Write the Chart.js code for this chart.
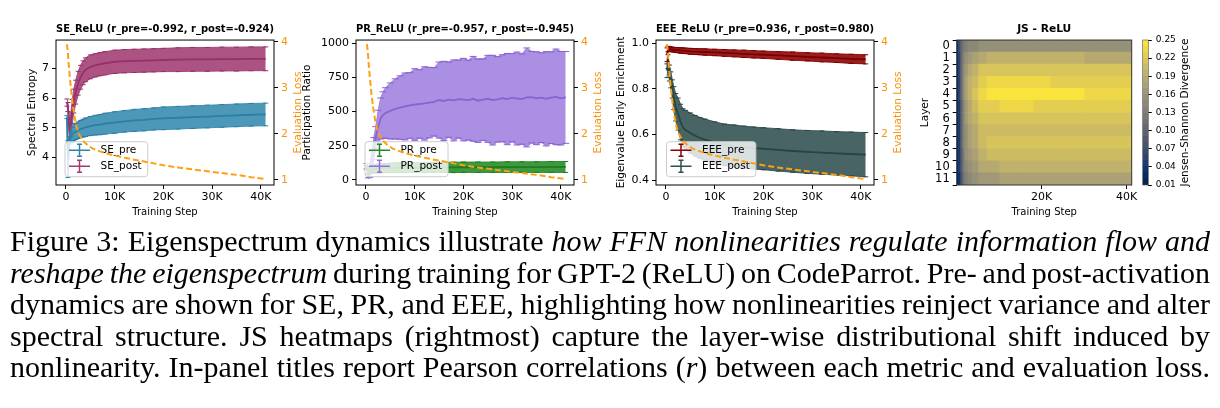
<!DOCTYPE html>
<html>
<head>
<meta charset="utf-8">
<script src="https://cdn.jsdelivr.net/npm/chart.js@4.4.1/dist/chart.umd.min.js"></script>
<style>
  body { margin: 0; background: #fff; width: 1220px; height: 408px; overflow: hidden; position: relative; }
  canvas { position: absolute; top: 0; }
  #cap { position: absolute; left: 10px; top: 225px; font-family: 'Liberation Serif', 'Times New Roman', serif;
         font-size: 30px; line-height: 31.6px; color: #000; }
  #cap .ln { width: max-content; white-space: pre; }
</style>
</head>
<body>
<canvas id="c1" width="310" height="225" style="left:0px"></canvas>
<canvas id="c2" width="315" height="225" style="left:295px"></canvas>
<canvas id="c3" width="310" height="225" style="left:600px"></canvas>
<canvas id="c4" width="235" height="225" style="left:905px"></canvas>
<canvas id="c5" width="90" height="225" style="left:1130px"></canvas>

<div id="cap">
<div class="ln">Figure 3: Eigenspectrum dynamics illustrate <i>how FFN nonlinearities regulate information flow and</i></div>
<div class="ln"><i>reshape the eigenspectrum</i> during training for GPT-2 (ReLU) on CodeParrot. Pre- and post-activation</div>
<div class="ln">dynamics are shown for SE, PR, and EEE, highlighting how nonlinearities reinject variance and alter</div>
<div class="ln">spectral structure. JS heatmaps (rightmost) capture the layer-wise distributional shift induced by</div>
<div class="ln">nonlinearity. In-panel titles report Pearson correlations (<i>r</i>) between each metric and evaluation loss.</div>
</div>

<script>
// training steps of the eval points
var steps = [200, 400, 700, 1000, 1300, 1600, 2000, 2500, 3000, 3500, 4000, 5000, 6000, 7000, 8000,
    10000, 12000, 14000, 16000, 18000, 20000, 23000, 26000, 29000, 32000, 35000, 38000, 41000];

var sePreMean = [5.36, 3.95, 4.58, 4.70, 4.78, 4.84, 4.88, 4.92, 4.96, 4.99, 5.02, 5.06, 5.09, 5.11, 5.14,
    5.18, 5.22, 5.25, 5.27, 5.30, 5.32, 5.34, 5.36, 5.38, 5.40, 5.42, 5.44, 5.45];
var sePreErr = [0.05, 0.62, 0.12, 0.20, 0.24, 0.26, 0.27, 0.28, 0.29, 0.30, 0.31, 0.32, 0.33, 0.34, 0.35,
    0.36, 0.36, 0.37, 0.37, 0.37, 0.38, 0.38, 0.38, 0.38, 0.38, 0.38, 0.38, 0.38];
var sePostMean = [5.85, 5.70, 4.95, 5.10, 5.55, 5.90, 6.20, 6.50, 6.70, 6.85, 6.95, 7.05, 7.10, 7.14, 7.17,
    7.22, 7.24, 7.25, 7.26, 7.27, 7.28, 7.29, 7.30, 7.30, 7.31, 7.31, 7.32, 7.32];
var sePostErr = [0.12, 0.15, 0.35, 0.40, 0.40, 0.40, 0.40, 0.40, 0.40, 0.40, 0.40, 0.40, 0.39, 0.39, 0.39,
    0.39, 0.39, 0.39, 0.39, 0.39, 0.39, 0.40, 0.40, 0.40, 0.40, 0.40, 0.40, 0.40];

var prPreMean = [95, 60, 70, 75, 78, 80, 82, 84, 85, 86, 87, 88, 89, 90, 90,
    91, 91, 92, 92, 92, 93, 93, 93, 94, 94, 94, 95, 95];
var prPreErr = [10, 20, 22, 25, 27, 28, 30, 31, 32, 33, 33, 34, 35, 35, 36,
    36, 37, 37, 37, 38, 38, 38, 38, 39, 39, 39, 40, 40];

// PR_post is noisier, so it has its own denser steps
var prSteps = [200, 500, 800, 1200, 1600, 2000, 2500, 3000, 3500, 4000,
    5000, 6000, 7000, 8000, 9000, 10000, 11000, 12000, 13000, 14000, 15000, 16000, 17000, 18000, 19000,
    20000, 21000, 22000, 23000, 24000, 25000, 26000, 27000, 28000, 29000, 30000, 31000, 32000, 33000,
    34000, 35000, 36000, 37000, 38000, 39000, 40000, 41000];
var prPostMean = [100, 30, 60, 140, 230, 310, 390, 450, 475, 490,
    505, 520, 530, 538, 545, 552, 556, 560, 566, 572, 585, 578, 588, 582, 592,
    588, 584, 594, 580, 588, 594, 584, 590, 598, 592, 602, 596, 592, 604,
    606, 598, 602, 594, 602, 608, 598, 604];
var prPostErr = [20, 15, 40, 70, 80, 80, 120, 150, 170, 185,
    205, 220, 232, 245, 240, 262, 250, 268, 258, 250, 278, 290, 275, 296, 285,
    302, 292, 310, 305, 298, 318, 328, 312, 318, 334, 322, 340, 330, 362,
    335, 340, 328, 345, 335, 350, 342, 336];

var eeePreMean = [0.950, 0.975, 0.975, 0.974, 0.973, 0.972, 0.971, 0.970, 0.969, 0.968, 0.967, 0.965, 0.964, 0.963, 0.962,
    0.960, 0.958, 0.956, 0.954, 0.952, 0.950, 0.947, 0.944, 0.941, 0.938, 0.935, 0.932, 0.930];
var eeePreErr = [0.030, 0.012, 0.010, 0.010, 0.010, 0.010, 0.011, 0.011, 0.012, 0.012, 0.012, 0.013, 0.013, 0.013, 0.014,
    0.014, 0.015, 0.015, 0.016, 0.016, 0.016, 0.017, 0.018, 0.018, 0.019, 0.019, 0.020, 0.020];
var eeePostMean = [0.880, 0.920, 0.870, 0.840, 0.800, 0.760, 0.720, 0.690, 0.655, 0.630, 0.620, 0.607, 0.595, 0.585, 0.578,
    0.565, 0.555, 0.550, 0.545, 0.541, 0.538, 0.533, 0.528, 0.524, 0.521, 0.518, 0.515, 0.512];
var eeePostErr = [0.030, 0.030, 0.035, 0.035, 0.040, 0.050, 0.060, 0.070, 0.078, 0.083, 0.086, 0.088, 0.089, 0.090, 0.090,
    0.091, 0.091, 0.092, 0.092, 0.092, 0.092, 0.093, 0.093, 0.094, 0.095, 0.095, 0.096, 0.097];

// evaluation loss (right axis, same run in all three panels)
var lossSteps = [200, 400, 600, 800, 1000, 1200, 1500, 1800, 2200, 2600, 3000, 3600, 4500, 5500, 7000,
    8500, 10000, 12000, 14000, 17000, 20000, 23000, 26000, 29000, 32000, 35000, 38000, 41000];
var evalLoss = [3.95, 3.75, 3.45, 3.22, 3.00, 2.80, 2.55, 2.35, 2.14, 2.01, 1.93, 1.84, 1.75, 1.68, 1.62,
    1.57, 1.53, 1.48, 1.44, 1.38, 1.32, 1.27, 1.23, 1.19, 1.15, 1.11, 1.06, 1.02];

// JS heatmap: one row per layer, one column per step
var layers = [0, 1, 2, 3, 4, 5, 6, 7, 8, 9, 10, 11];
var jsSteps = [0, 500, 1000, 1500, 2000, 3000, 4000, 6000, 8000, 12000, 16000, 20000, 24000, 28000, 32000, 36000, 41200];
var jsGrid = [
    [0.03, 0.06, 0.10, 0.12, 0.13, 0.14, 0.145, 0.15, 0.155, 0.155, 0.155, 0.155, 0.155, 0.155, 0.155, 0.155, 0.155],
    [0.02, 0.05, 0.10, 0.13, 0.15, 0.16, 0.17, 0.185, 0.19, 0.19, 0.19, 0.19, 0.19, 0.19, 0.185, 0.185, 0.185],
    [0.02, 0.05, 0.10, 0.14, 0.16, 0.18, 0.19, 0.21, 0.215, 0.218, 0.218, 0.215, 0.212, 0.212, 0.212, 0.212, 0.212],
    [0.02, 0.05, 0.10, 0.14, 0.17, 0.19, 0.20, 0.22, 0.23, 0.235, 0.235, 0.232, 0.228, 0.226, 0.225, 0.225, 0.225],
    [0.02, 0.05, 0.10, 0.14, 0.17, 0.19, 0.21, 0.235, 0.245, 0.248, 0.248, 0.246, 0.242, 0.24, 0.238, 0.236, 0.236],
    [0.02, 0.04, 0.09, 0.13, 0.16, 0.18, 0.20, 0.22, 0.225, 0.23, 0.23, 0.226, 0.225, 0.222, 0.222, 0.222, 0.222],
    [0.02, 0.04, 0.09, 0.13, 0.16, 0.18, 0.19, 0.21, 0.215, 0.215, 0.215, 0.215, 0.215, 0.215, 0.215, 0.215, 0.215],
    [0.02, 0.04, 0.09, 0.13, 0.15, 0.17, 0.18, 0.20, 0.203, 0.203, 0.203, 0.205, 0.208, 0.208, 0.208, 0.208, 0.208],
    [0.02, 0.04, 0.09, 0.13, 0.15, 0.17, 0.18, 0.20, 0.212, 0.212, 0.212, 0.212, 0.212, 0.212, 0.212, 0.212, 0.212],
    [0.02, 0.04, 0.08, 0.12, 0.15, 0.16, 0.17, 0.19, 0.202, 0.202, 0.202, 0.202, 0.202, 0.202, 0.202, 0.202, 0.202],
    [0.02, 0.04, 0.08, 0.12, 0.14, 0.15, 0.16, 0.18, 0.188, 0.192, 0.192, 0.192, 0.192, 0.192, 0.192, 0.192, 0.192],
    [0.01, 0.03, 0.07, 0.11, 0.13, 0.14, 0.15, 0.16, 0.165, 0.17, 0.17, 0.17, 0.17, 0.17, 0.17, 0.17, 0.17]
];
var cbLevels = [0.01, 0.02, 0.03, 0.04, 0.05, 0.06, 0.07, 0.08, 0.09, 0.10, 0.11, 0.12, 0.13,
    0.14, 0.15, 0.16, 0.17, 0.18, 0.19, 0.20, 0.21, 0.22, 0.23, 0.24, 0.25];
var cbTicks = [0.01, 0.04, 0.07, 0.10, 0.13, 0.16, 0.19, 0.22, 0.25];
var stepTicks = [0, 10000, 20000, 30000, 40000];
var lossTicks = [1, 2, 3, 4];

var ORANGE = '#FFA010';
var ORANGE_TXT = '#F7950C';

Chart.defaults.font.family = "'DejaVu Sans', sans-serif";
Chart.defaults.color = '#000';

// cividis approx
var cividisStops = [[0, 0, 34, 78], [0.1, 8, 51, 112], [0.2, 53, 69, 108], [0.3, 79, 87, 108], [0.4, 102, 105, 112],
    [0.5, 125, 124, 120], [0.6, 148, 143, 120], [0.7, 174, 163, 116], [0.8, 200, 184, 102], [0.9, 228, 207, 81], [1, 254, 232, 56]];
function cividis(t) {
    t = Math.max(0, Math.min(1, t));
    for (var i = 1; i < cividisStops.length; i++) {
        var a = cividisStops[i - 1], b = cividisStops[i];
        if (t <= b[0]) {
            var f = (t - a[0]) / (b[0] - a[0]);
            return 'rgb(' + Math.round(a[1] + f * (b[1] - a[1])) + ',' + Math.round(a[2] + f * (b[2] - a[2])) + ',' + Math.round(a[3] + f * (b[3] - a[3])) + ')';
        }
    }
}
var cbMin = cbLevels[0], cbMax = cbLevels[cbLevels.length - 1];
function levelColor(v) {
    // contourf-like: snap to the level band
    var k = 0;
    while (k < cbLevels.length - 2 && v >= cbLevels[k + 1]) k++;
    return cividis(((cbLevels[k] + cbLevels[k + 1]) / 2 - cbMin) / (cbMax - cbMin));
}

// plugins
var frame = {
    id: 'frame',
    afterDraw: function (chart, args, o) {
        var a = chart.chartArea, ctx = chart.ctx;
        ctx.save();
        ctx.strokeStyle = o.color || '#000';
        ctx.lineWidth = o.width || 1;
        ctx.strokeRect(a.left, a.top, a.right - a.left, a.bottom - a.top);
        ctx.restore();
    }
};

var sideTitle = {
    id: 'sideTitle',
    afterDraw: function (chart, args, o) {
        if (!o.text) return;
        var a = chart.chartArea, ctx = chart.ctx;
        ctx.save();
        ctx.translate(a.right + o.offset, (a.top + a.bottom) / 2);
        ctx.rotate(-Math.PI / 2);
        ctx.font = o.size + "px 'DejaVu Sans'";
        ctx.fillStyle = o.color;
        ctx.textAlign = 'center';
        ctx.textBaseline = 'middle';
        ctx.fillText(o.text, 0, 0);
        ctx.restore();
    }
};

// matplotlib style errorbar legend, drawn under the loss line
var errLegend = {
    id: 'errLegend',
    afterDatasetDraw: function (chart, args, o) {
        if (!o.items || args.index !== 1) return;
        var ctx = chart.ctx, a = chart.chartArea;
        ctx.save();
        ctx.font = "10.5px 'DejaVu Sans'";
        var tw = 0;
        o.items.forEach(function (it) { tw = Math.max(tw, ctx.measureText(it.label).width); });
        var x = a.left + o.dx, y = o.top, w = o.textDx - o.dx + tw + 6, h = 35;
        ctx.fillStyle = 'rgba(255,255,255,0.8)';
        ctx.strokeStyle = '#cccccc';
        ctx.lineWidth = 1;
        ctx.beginPath();
        ctx.roundRect(x, y, w, h, 3);
        ctx.fill();
        ctx.stroke();
        o.items.forEach(function (it, i) {
            var yy = y + 8.5 + i * 16;
            ctx.strokeStyle = it.color;
            ctx.lineWidth = 1.5;
            ctx.beginPath();
            ctx.moveTo(x + 4, yy); ctx.lineTo(x + 25, yy);
            ctx.moveTo(x + 14.5, yy - 6); ctx.lineTo(x + 14.5, yy + 6);
            ctx.moveTo(x + 12, yy - 6); ctx.lineTo(x + 17, yy - 6);
            ctx.moveTo(x + 12, yy + 6); ctx.lineTo(x + 17, yy + 6);
            ctx.stroke();
            ctx.fillStyle = '#000';
            ctx.textBaseline = 'middle';
            ctx.fillText(it.label, a.left + o.textDx, yy + 0.5);
        });
        ctx.restore();
    }
};

// mean line + error band (upper/lower edges carry the caps)
function band(xs, mean, err, line, fill, cap) {
    var capPts = { pointStyle: 'line', pointRadius: cap, pointBorderColor: line, pointBorderWidth: 1, pointBackgroundColor: line };
    return [
        { data: xs.map(function (x, i) { return { x: x, y: mean[i] }; }), borderColor: line, borderWidth: 1.8, pointRadius: 0, yAxisID: 'y' },
        Object.assign({ data: xs.map(function (x, i) { return { x: x, y: mean[i] + err[i] }; }), borderColor: fill, borderWidth: 1, yAxisID: 'y' }, capPts),
        Object.assign({ data: xs.map(function (x, i) { return { x: x, y: mean[i] - err[i] }; }), borderColor: fill, borderWidth: 1,
          backgroundColor: fill, fill: '-1', yAxisID: 'y' }, capPts)
    ];
}

function lossLine() {
    return { data: lossSteps.map(function (s, i) { return { x: s, y: evalLoss[i] }; }),
             borderColor: ORANGE, borderWidth: 2, borderDash: [6, 3], pointRadius: 0, yAxisID: 'y2' };
}

function kfmt(v) { return v === 0 ? '0' : (v / 1000) + 'K'; }

function xAxis(min, max, ticks) {
    return {
        type: 'linear', min: min, max: max,
        afterBuildTicks: function (s) { s.ticks = ticks.map(function (v) { return { value: v }; }); },
        afterFit: function (s) { s.height = 35; },
        ticks: { font: { size: 11 }, padding: 2, maxRotation: 0, autoSkip: false, callback: kfmt },
        grid: { drawOnChartArea: false, tickLength: 4, tickColor: '#000' },
        border: { display: false },
        title: { display: true, text: 'Training Step', font: { size: 10 }, padding: { top: 0, bottom: 2 } }
    };
}

function makePanel(id, c) {
    return new Chart(document.getElementById(id), {
        type: 'line',
        data: { datasets: [lossLine()].concat(c.pre, c.post) },
        options: {
            responsive: false,
            animation: false,
            events: [],
            layout: { padding: { left: 0, right: 0, top: 0, bottom: 5 } },
            plugins: {
                legend: { display: false },
                tooltip: { enabled: false },
                title: { display: true, text: c.title, fullSize: false, color: '#000',
                         font: { size: 10.7, weight: 'bold' }, padding: { top: 23.2, bottom: 4 } },
                errLegend: { items: c.legend, dx: c.legDx, textDx: c.legDx + 35.5, top: 141.7 },
                sideTitle: { text: 'Evaluation Loss', offset: 24, color: ORANGE_TXT, size: 10.5 }
            },
            scales: {
                x: xAxis(-2050, 42700, stepTicks),
                y: {
                    type: 'linear', position: 'left', min: c.yMin, max: c.yMax,
                    afterBuildTicks: function (s) { s.ticks = c.yTicks.map(function (v) { return { value: v }; }); },
                    afterFit: function (s) { s.width = c.leftW; },
                    ticks: { font: { size: 11 }, padding: 3, callback: c.yFmt },
                    grid: { drawOnChartArea: false, tickLength: 4, tickColor: '#000' },
                    border: { display: false },
                    title: { display: true, text: c.yTitle, font: { size: 10.5 }, padding: { top: c.titlePad, bottom: 0 } }
                },
                y2: {
                    type: 'linear', position: 'right', min: 0.89, max: 4.037,
                    afterBuildTicks: function (s) { s.ticks = lossTicks.map(function (v) { return { value: v }; }); },
                    afterFit: function (s) { s.width = 36; },
                    ticks: { font: { size: 11 }, padding: 3, color: ORANGE_TXT },
                    grid: { drawOnChartArea: false, tickLength: 4, tickColor: '#000' },
                    border: { display: false }
                }
            }
        },
        plugins: [errLegend, sideTitle, frame]
    });
}

makePanel('c1', {
    title: 'SE_ReLU (r_pre=-0.992, r_post=-0.924)',
    pre: band(steps, sePreMean, sePreErr, '#2A7FA3', 'rgba(46,134,171,0.85)', 2.5),
    post: band(steps, sePostMean, sePostErr, '#95306A', 'rgba(162,59,114,0.88)', 2.5),
    legend: [{ label: 'SE_pre', color: '#2E86AB' }, { label: 'SE_post', color: '#A23B72' }],
    legDx: 9, yMin: 3.08, yMax: 7.95, yTicks: [4, 5, 6, 7], yFmt: function (v) { return v; },
    yTitle: 'Spectral Entropy', titlePad: 25.7, leftW: 56
});

makePanel('c2', {
    title: 'PR_ReLU (r_pre=-0.957, r_post=-0.945)',
    pre: band(steps, prPreMean, prPreErr, '#1E7B1E', 'rgba(34,139,34,0.88)', 2.5),
    post: band(prSteps, prPostMean, prPostErr, '#8A63D2', 'rgba(147,112,219,0.78)', 3.5),
    legend: [{ label: 'PR_pre', color: '#228B22' }, { label: 'PR_post', color: '#9370DB' }],
    legDx: 9, yMin: -37, yMax: 1024, yTicks: [0, 250, 500, 750, 1000], yFmt: function (v) { return v; },
    yTitle: 'Participation Ratio', titlePad: 6.2, leftW: 61
});

makePanel('c3', {
    title: 'EEE_ReLU (r_pre=0.936, r_post=0.980)',
    pre: band(steps, eeePreMean, eeePreErr, '#7A0000', 'rgba(139,0,0,0.88)', 2.5),
    post: band(steps, eeePostMean, eeePostErr, '#284444', 'rgba(47,79,79,0.88)', 2.5),
    legend: [{ label: 'EEE_pre', color: '#8B0000' }, { label: 'EEE_post', color: '#2F4F4F' }],
    legDx: 10.5, yMin: 0.379, yMax: 1.0145, yTicks: [0.4, 0.6, 0.8, 1.0], yFmt: function (v) { return v.toFixed(1); },
    yTitle: 'Eigenvalue Early Enrichment', titlePad: 14.7, leftW: 56
});

// heatmap cells as floating horizontal bars
function cellStart(c) { return c === 0 ? jsSteps[0] : (jsSteps[c - 1] + jsSteps[c]) / 2; }
function cellEnd(c) { return c === jsSteps.length - 1 ? jsSteps[c] : (jsSteps[c] + jsSteps[c + 1]) / 2; }

new Chart(document.getElementById('c4'), {
    type: 'bar',
    data: {
        datasets: jsSteps.map(function (s, c) {
            return {
                data: layers.map(function (l) { return { y: l, x: [cellStart(c), cellEnd(c)] }; }),
                backgroundColor: layers.map(function (l) { return levelColor(jsGrid[l][c]); }),
                borderWidth: 0, grouped: false, barPercentage: 1, categoryPercentage: 1, clip: 0
            };
        })
    },
    options: {
        indexAxis: 'y',
        responsive: false,
        animation: false,
        events: [],
        layout: { padding: { left: 0, right: 8.3, top: 0, bottom: 5 } },
        plugins: {
            legend: { display: false },
            tooltip: { enabled: false },
            title: { display: true, text: 'JS - ReLU', fullSize: false, color: '#000',
                     font: { size: 10.7, weight: 'bold' }, padding: { top: 23.2, bottom: 4 } },
            frame: { color: '#333' }
        },
        scales: {
            x: xAxis(0, 41200, [20000, 40000]),
            y: {
                type: 'linear', min: 0, max: 11, reverse: true,
                afterBuildTicks: function (s) { s.ticks = layers.map(function (v) { return { value: v }; }); },
                afterFit: function (s) { s.width = 51.7; },
                ticks: { font: { size: 11.5 }, padding: 3, autoSkip: false },
                grid: { drawOnChartArea: false, tickLength: 4, tickColor: '#000' },
                border: { display: false },
                title: { display: true, text: 'Layer', font: { size: 10.5 }, padding: { top: 13.7, bottom: 0 } }
            }
        }
    },
    plugins: [frame]
});

// colorbar
new Chart(document.getElementById('c5'), {
    type: 'bar',
    data: {
        labels: ['JS'],
        datasets: cbLevels.slice(0, -1).map(function (lv, k) {
            return {
                data: [[lv, cbLevels[k + 1]]],
                backgroundColor: cividis(((lv + cbLevels[k + 1]) / 2 - cbMin) / (cbMax - cbMin)),
                borderWidth: 0, grouped: false, barPercentage: 1, categoryPercentage: 1
            };
        })
    },
    options: {
        responsive: false,
        animation: false,
        events: [],
        layout: { padding: { left: 12.7, right: 0, top: 40, bottom: 40 } },
        plugins: {
            legend: { display: false },
            tooltip: { enabled: false },
            sideTitle: { text: 'Jensen-Shannon Divergence', offset: 36.7, color: '#000', size: 10.5 },
            frame: { color: '#555', width: 0.6 }
        },
        scales: {
            x: { display: false },
            y: {
                type: 'linear', position: 'right', min: cbMin, max: cbMax,
                afterBuildTicks: function (s) { s.ticks = cbTicks.map(function (v) { return { value: v }; }); },
                afterFit: function (s) { s.width = 71.7; },
                ticks: { font: { size: 9 }, padding: 4, autoSkip: false, callback: function (v) { return v.toFixed(2); } },
                grid: { drawOnChartArea: false, tickLength: 3.5, tickColor: '#000' },
                border: { display: false }
            }
        }
    },
    plugins: [sideTitle, frame]
});

// caption: stretch each line to the full 1200px measure
function justifyCaption() {
    document.querySelectorAll('#cap .ln').forEach(function (el) {
        el.style.wordSpacing = '0px';
        var w = el.getBoundingClientRect().width;
        var n = (el.textContent.match(/ /g) || []).length;
        el.style.wordSpacing = ((1200 - w) / n) + 'px';
    });
}
justifyCaption();
document.fonts.ready.then(justifyCaption);
</script>
</body>
</html>
